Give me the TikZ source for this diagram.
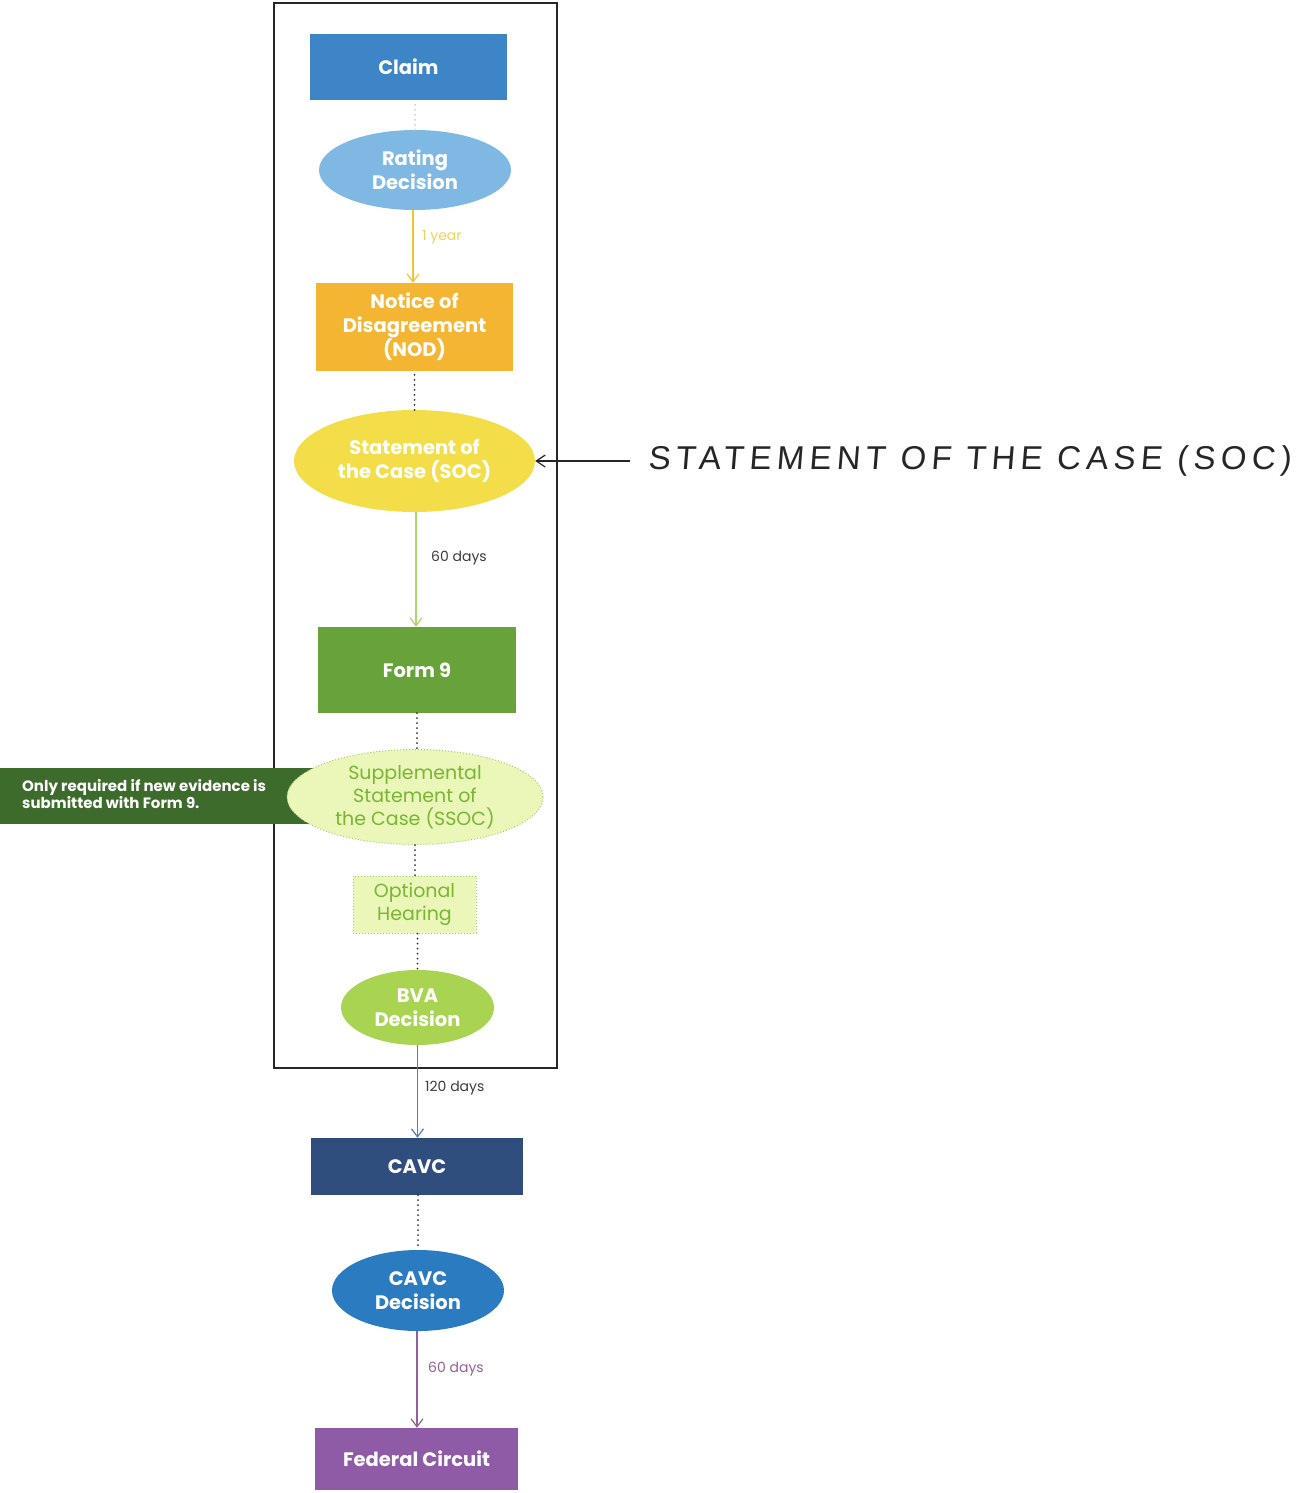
\documentclass[tikz,border=0pt]{standalone}
\usepackage{fontspec}
\setmainfont{Poppins}
\newfontfamily\handfont[FakeSlant=0.08,LetterSpace=16]{Liberation Sans}
\usetikzlibrary{shapes.geometric,arrows.meta}
\definecolor{claimblue}{RGB}{61,133,198}
\definecolor{ratingblue}{RGB}{127,185,227}
\definecolor{nodorange}{RGB}{244,181,50}
\definecolor{socyellow}{RGB}{243,222,74}
\definecolor{formgreen}{RGB}{103,163,58}
\definecolor{ssocfill}{RGB}{234,247,184}
\definecolor{ssoctext}{RGB}{122,181,52}
\definecolor{notegreen}{RGB}{60,107,43}
\definecolor{bvagreen}{RGB}{169,212,82}
\definecolor{cavcnavy}{RGB}{47,78,126}
\definecolor{cavcblue}{RGB}{43,123,192}
\definecolor{fedpurple}{RGB}{143,91,166}
\definecolor{arryellow}{RGB}{242,197,48}
\definecolor{arrgreen}{RGB}{171,216,106}
\definecolor{arrblue}{RGB}{79,127,181}
\definecolor{arrpurple}{RGB}{148,96,153}
\definecolor{labelgray}{RGB}{60,60,60}
\tikzset{
  boxnode/.style={rectangle,inner sep=0pt,align=center,text=white,font=\fontsize{19.5}{24}\selectfont\bfseries},
  ellnode/.style={ellipse,inner sep=0pt,align=center,text=white,font=\fontsize{19.5}{24}\selectfont\bfseries},
  dotline/.style={line width=2pt,line cap=round,dash pattern=on 0pt off 5pt,black!80},
  flowarrow/.style={line width=1.3pt,-{Straight Barb[length=8pt,width=12pt,line width=1.2pt]}},
  daylabel/.style={font=\fontsize{14}{16}\selectfont,anchor=west,inner sep=0pt}
}
\begin{document}
\begin{tikzpicture}[x=1pt,y=-1pt]
\useasboundingbox[fill=white] (0,0) rectangle (1300,1493);
% outer frame
\node[draw=black!85,line width=1.6pt,rectangle,minimum width=283pt,minimum height=1065pt,inner sep=0pt] (frame) at (415.5,535.5) {};
% note box (behind SSOC)
\node[rectangle,fill=notegreen,minimum width=330pt,minimum height=56pt,inner sep=0pt] (notebox) at (165,796) {};
\node[text=white,font=\fontsize{15}{17}\selectfont\bfseries,align=left,anchor=west,inner sep=0pt] (note) at (22,794) {Only required if new evidence is\\submitted with Form 9.};
% nodes
\node[boxnode,fill=claimblue,minimum width=197pt,minimum height=66pt] (claim) at (408.5,67) {Claim};
\node[ellnode,fill=ratingblue,minimum width=192pt,minimum height=80pt] (rating) at (415,170) {Rating\\Decision};
\node[boxnode,fill=nodorange,minimum width=197pt,minimum height=88pt] (nod) at (414.5,327) {Notice of\\Disagreement\\(NOD)};
\node[ellnode,fill=socyellow,minimum width=241pt,minimum height=102pt] (soc) at (414.5,461) {Statement of\\the Case (SOC)};
\node[boxnode,fill=formgreen,minimum width=198pt,minimum height=86pt] (form) at (417,670) {Form 9};
\node[ellnode,fill=ssocfill,draw=ssoctext!70,dotted,line width=1pt,text=ssoctext,font=\fontsize{19}{23}\selectfont,minimum width=256pt,minimum height=95pt] (ssoc) at (415,797) {Supplemental\\Statement of\\the Case (SSOC)};
\node[boxnode,fill=ssocfill,draw=ssoctext!70,dotted,line width=1pt,text=ssoctext,font=\fontsize{19}{23}\selectfont,minimum width=123pt,minimum height=57pt] (hearing) at (414.5,904.5) {Optional\\Hearing};
\node[ellnode,fill=bvagreen,minimum width=153pt,minimum height=75pt] (bva) at (417.5,1007.5) {BVA\\Decision};
\node[boxnode,fill=cavcnavy,minimum width=212pt,minimum height=57pt] (cavc) at (417,1166.5) {CAVC};
\node[ellnode,fill=cavcblue,minimum width=172pt,minimum height=81pt] (cavcdec) at (418,1290.5) {CAVC\\Decision};
\node[boxnode,fill=fedpurple,minimum width=203pt,minimum height=62pt] (fed) at (416.5,1459) {Federal Circuit};
% connectors
\draw[dotline,black!20] (rating.north) -- (rating.north |- claim.south);
\draw[flowarrow,arryellow] (rating.south -| 413,0) -- (413,0 |- nod.north);
\node[daylabel,text=arryellow!80] (lab1) at (422,237) {1 year};
\draw[dotline] (soc.north) -- (soc.north |- nod.south);
\draw[flowarrow,arrgreen] (soc.south -| 416,0) -- (416,0 |- form.north);
\node[daylabel,text=labelgray] (lab2) at (431,558) {60 days};
\draw[dotline] (form.south) -- (form.south |- ssoc.north);
\draw[dotline] (ssoc.south) -- (ssoc.south |- hearing.north);
\draw[dotline] (hearing.south -| bva.north) -- (bva.north);
\draw[flowarrow,arrblue] (bva.south) -- (bva.south |- cavc.north);
\node[daylabel,text=labelgray] (lab3) at (425,1088) {120 days};
\draw[dotline] (cavc.south -| cavcdec.north) -- (cavcdec.north);
\draw[flowarrow,arrpurple] (cavcdec.south -| 417,0) -- (417,0 |- fed.north);
\node[daylabel,text=arrpurple] (lab4) at (428,1369) {60 days};
% handwritten annotation
\node[anchor=west,inner sep=0pt,font=\handfont\fontsize{33}{36}\selectfont,text=black!85] (hand) at (648,461) {STATEMENT OF THE CASE (SOC)};
\draw[line width=1.3pt,black!85,-{Straight Barb[length=9pt,width=12pt,line width=1.2pt]}] (hand.west) ++(-18,0) coordinate (handstart) -- (soc.east);
\end{tikzpicture}
\end{document}
